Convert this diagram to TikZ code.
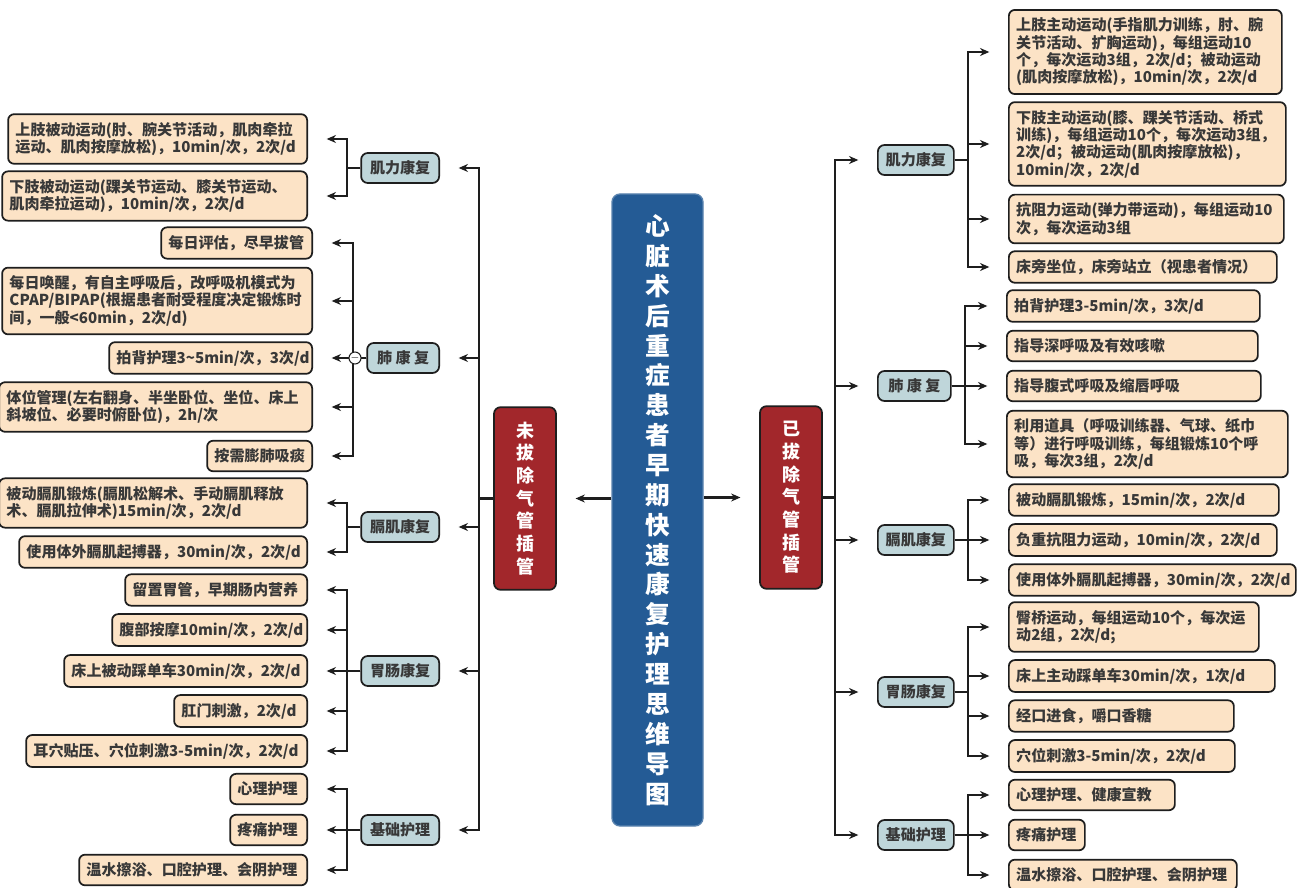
\documentclass[tikz,border=0pt]{standalone}
\usepackage{fontspec}
\setmainfont{Noto Sans CJK SC}
\usepackage{xcolor}
\usetikzlibrary{arrows.meta}
\definecolor{peach}{HTML}{FCE3C6}
\definecolor{mist}{HTML}{BFD6DA}
\definecolor{brick}{HTML}{A2272B}
\definecolor{navy}{HTML}{245B95}
\definecolor{ink}{HTML}{1E1E1E}
\definecolor{txt}{HTML}{383838}
\exhyphenpenalty=10000
\hyphenpenalty=10000

\begin{document}
\begin{tikzpicture}[x=0.75pt,y=-0.75pt,
  leaf/.style={draw=ink,line width=1.3pt,fill=peach,rounded corners=4.5pt,align=left,inner xsep=5.5pt,inner ysep=6pt,
    minimum height=22.5pt,text=txt,font=\fontsize{11.3}{13}\selectfont\bfseries},
  cat/.style={draw=ink,line width=1.3pt,fill=mist,rounded corners=5pt,minimum height=22.5pt,minimum width=#1,inner sep=0pt,
    text=txt,font=\fontsize{11.3}{13}\selectfont\bfseries},
  branch/.style={draw=ink,line width=1.3pt,fill=brick,rounded corners=5pt,minimum width=46.5pt,minimum height=137pt,
    align=center,text=white,font=\fontsize{13.5}{17}\selectfont\bfseries},
  hub/.style={draw=navy!75!white,line width=1pt,fill=navy,rounded corners=6pt,minimum width=68.25pt,minimum height=474pt,
    align=center,text=white,font=\fontsize{18.5}{22.4}\selectfont\bfseries},
  fold/.style={circle,draw=ink,fill=white,line width=0.8pt,minimum size=9pt,inner sep=0pt,font=\footnotesize},
  arr/.style={-{Stealth[length=7pt,width=6pt]},line width=1.8pt,draw=ink,shorten >=14pt}]
  \useasboundingbox[fill=white] (0,0) rectangle (1297,888);
  % title
  \node[hub] (hub) at (657.5,510) {心\\脏\\术\\后\\重\\症\\患\\者\\早\\期\\快\\速\\康\\复\\护\\理\\思\\维\\导\\图};
  \node[branch] (redL) at (525,498.5) {未\\拔\\除\\气\\管\\插\\管};
  \node[branch] (redR) at (791,497.5) {已\\拔\\除\\气\\管\\插\\管};
  \draw[arr] (redL.east -| hub.west) -- (redL.east);
  \draw[arr] (redR.west -| hub.east) -- (redR.west);
  % left categories
  \foreach \n/\y/\w/\t in {cL1/168/58.5/肌力康复,cL2/358/54/肺 康 复,cL3/527/58.5/膈肌康复,cL4/671/58.5/胃肠康复,cL5/830/58.5/基础护理}
    \node[cat=\w pt,anchor=east] (\n) at (440,\y) {\t};
  % right categories
  \foreach \n/\y/\w/\t in {cR1/160/57/肌力康复,cR2/386/54.75/肺 康 复,cR3/540/57/膈肌康复,cR4/692/57/胃肠康复,cR5/835/57/基础护理}
    \node[cat=\w pt,anchor=west] (\n) at (877,\y) {\t};
  % left leaves
  \foreach \n/\x/\y/\w/\t in {
    L11/308/139/299/{上肢被动运动(肘、腕关节活动，肌肉牵拉\\运动、肌肉按摩放松)，10min/次，2次/d},
    L12/308/196/305/{下肢被动运动(踝关节运动、膝关节运动、\\肌肉牵拉运动)，10min/次，2次/d},
    L21/313/243/151/{每日评估，尽早拔管},
    L22/313/301/310/{每日唤醒，有自主呼吸后，改呼吸机模式为\\CPAP/BIPAP(根据患者耐受程度决定锻炼时\\间，一般<60min，2次/d)},
    L23/313/358/203/{拍背护理3\textasciitilde5min/次，3次/d},
    L24/313/407/313/{体位管理(左右翻身、半坐卧位、坐位、床上\\斜坡位、必要时俯卧位)，2h/次},
    L25/313/456/105/{按需膨肺吸痰},
    L31/308/503/308/{被动膈肌锻炼(膈肌松解术、手动膈肌释放\\术、膈肌拉伸术)15min/次，2次/d},
    L32/308/552/288/{使用体外膈肌起搏器，30min/次，2次/d},
    L41/308/590/182/{留置胃管，早期肠内营养},
    L42/308/630/195/{腹部按摩10min/次，2次/d},
    L43/308/671/243/{床上被动踩单车30min/次，2次/d},
    L44/308/711/133/{肛门刺激，2次/d},
    L45/308/751/281/{耳穴贴压、穴位刺激3-5min/次，2次/d},
    L51/308/789/77/{心理护理},
    L52/308/830/77/{疼痛护理},
    L53/308/870/228/{温水擦浴、口腔护理、会阴护理}}{
    \pgfmathsetmacro\tw{\w*0.75-11}
    \node[leaf,text width=\tw pt,anchor=east] (\n) at (\x,\y) {\t};}
  % right leaves
  \foreach \n/\x/\y/\w/\t in {
    R11/1008/52/273/{上肢主动运动(手指肌力训练，肘、腕\\关节活动、扩胸运动)，每组运动10\\个，每次运动3组，2次/d；被动运动\\(肌肉按摩放松)，10min/次，2次/d},
    R12/1008/144/277/{下肢主动运动(膝、踝关节活动、桥式\\训练)，每组运动10个，每次运动3组，\\2次/d；被动运动(肌肉按摩放松)，\\10min/次，2次/d},
    R13/1008/219/275/{抗阻力运动(弹力带运动)，每组运动10\\次，每次运动3组},
    R14/1008/267/268/{床旁坐位，床旁站立（视患者情况）},
    R21/1006/306/253/{拍背护理3-5min/次，3次/d},
    R22/1006/346/251/{指导深呼吸及有效咳嗽},
    R23/1006/386/254/{指导腹式呼吸及缩唇呼吸},
    R24/1006/444/281/{利用道具（呼吸训练器、气球、纸巾\\等）进行呼吸训练，每组锻炼10个呼\\吸，每次3组，2次/d},
    R31/1008/500/270/{被动膈肌锻炼，15min/次，2次/d},
    R32/1008/540/268/{负重抗阻力运动，10min/次，2次/d},
    R33/1008/580/287/{使用体外膈肌起搏器，30min/次，2次/d},
    R41/1008/627/250/{臀桥运动，每组运动10个，每次运\\动2组，2次/d;},
    R42/1008/676/266/{床上主动踩单车30min/次，1次/d},
    R43/1008/716/225/{经口进食，嚼口香糖},
    R44/1008/756/226/{穴位刺激3-5min/次，2次/d},
    R51/1008/795/166/{心理护理、健康宣教},
    R52/1008/835/76/{疼痛护理},
    R53/1008/875/228/{温水擦浴、口腔护理、会阴护理}}{
    \pgfmathsetmacro\tw{\w*0.75-11}
    \node[leaf,text width=\tw pt,anchor=west] (\n) at (\x,\y) {\t};}
  % trunks
  \foreach \c in {cL1,cL2,cL3,cL4,cL5} \draw[arr] (redL.west) -- ++(-14,0) |- (\c.east);
  \foreach \c in {cR1,cR2,cR3,cR4,cR5} \draw[arr] (redR.east) -- ++(12,0) |- (\c.west);
  % brackets
  \foreach \c/\l in {cL1/L11,cL1/L12,cL2/L21,cL2/L22,cL2/L23,cL2/L24,cL2/L25,cL3/L31,cL3/L32,
    cL4/L41,cL4/L42,cL4/L43,cL4/L44,cL4/L45,cL5/L51,cL5/L52,cL5/L53}
    \draw[arr] (\c.west) -- ++(-13,0) |- (\l.east);
  \foreach \c/\l in {cR1/R11,cR1/R12,cR1/R13,cR1/R14,cR2/R21,cR2/R22,cR2/R23,cR2/R24,cR3/R31,cR3/R32,cR3/R33,
    cR4/R41,cR4/R42,cR4/R43,cR4/R44,cR5/R51,cR5/R52,cR5/R53}
    \draw[arr] (\c.east) -- ++(13,0) |- (\l.west);
  \node[fold] (foldL2) at (355,358) {$-$};
\end{tikzpicture}
\end{document}
